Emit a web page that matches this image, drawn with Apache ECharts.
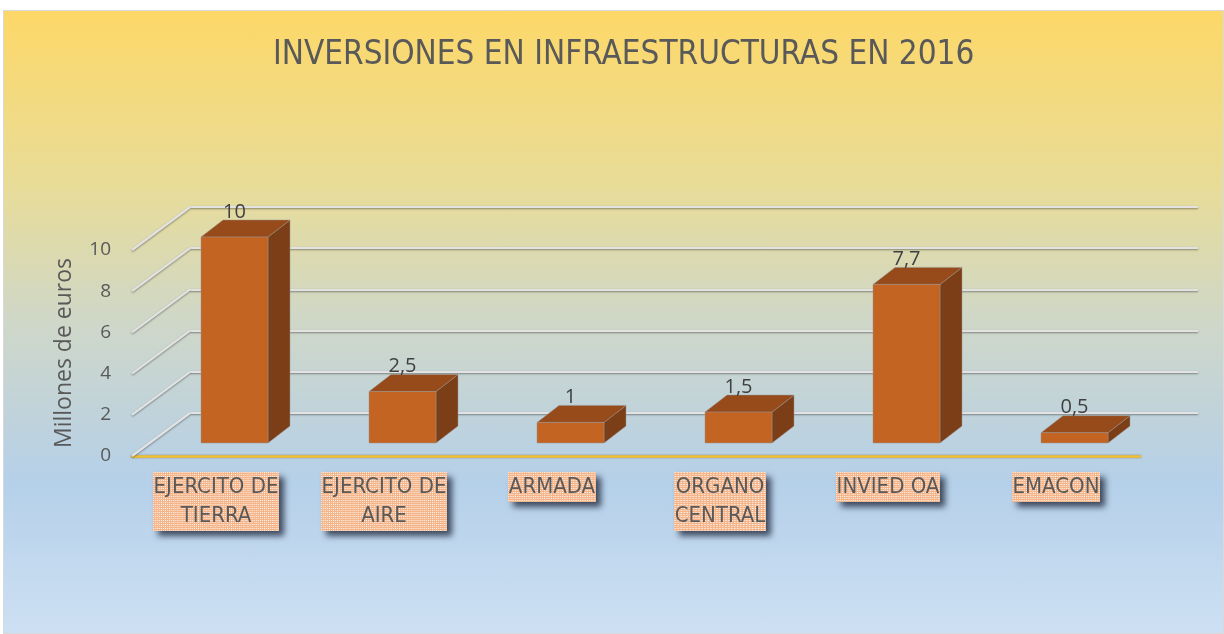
<!DOCTYPE html>
<html>
<head>
<meta charset="utf-8">
<script src="https://cdn.jsdelivr.net/npm/echarts@6/dist/echarts.min.js"></script>
<style>
  html, body { margin: 0; padding: 0; background: #ffffff; }
  #bg { position: absolute; left: 3px; top: 10px; width: 1219px; height: 622px;
        border: 1px solid #d9d9d9;
        background: linear-gradient(to bottom, #fdd868 0%, #e8dc98 28%, #cfd7c8 50%, #b5d0e9 76%, #cde0f3 100%); }
  #chart { position: absolute; left: 0; top: 0; width: 1224px; height: 634px; }
</style>
</head>
<body>
<div id="bg"></div>
<div id="chart"></div>
<script>
// ---- data ----
const title = 'INVERSIONES EN INFRAESTRUCTURAS EN 2016';
const yAxisName = 'Millones de euros';
const categories = ['EJERCITO DE\nTIERRA', 'EJERCITO DE\nAIRE', 'ARMADA', 'ORGANO\nCENTRAL', 'INVIED OA', 'EMACON'];
const values = [10, 2.5, 1, 1.5, 7.7, 0.5];
const yTicks = [0, 2, 4, 6, 8, 10];

// ---- styling helpers ----
function makePattern(w, h) {
  const c = document.createElement('canvas');
  c.width = w; c.height = h;
  const g = c.getContext('2d');
  g.fillStyle = '#f5b58a';
  g.fillRect(0, 0, w, h);
  g.fillStyle = 'rgba(255,255,255,0.85)';
  for (let y = 0; y < h; y += 4) {
    for (let x = 0; x < w; x += 4) {
      g.fillRect(x, y, 1, 1);
      g.fillRect(x + 2, y, 1, 1);
      g.fillRect(x, y + 2, 1, 1);
    }
  }
  g.fillStyle = 'rgba(255,255,255,0.5)';
  for (let y = 0; y < h; y += 4) {
    for (let x = 0; x < w; x += 4) {
      g.fillRect(x + 2, y + 2, 1, 1);
    }
  }
  return c;
}
const patTwo = makePattern(123, 59);
const patOne = makePattern(98, 30);

const FONT = "'Liberation Sans Narrow', 'DejaVu Sans Condensed', sans-serif";
const TXT = '#595959';

const xData = categories.map(c => ({
  value: c,
  textStyle: { backgroundColor: { image: c.indexOf('\n') >= 0 ? patTwo : patOne } }
}));

const DX = 58, DY = -43;       // depth offset front -> back wall
const BX = 18.5, BY = -13;     // bar front face offset from front plane
const BW = 67;                 // bar width
const BDX = 22, BDY = -17;     // bar depth

const gridLine = { stroke: '#e2e2e2', lineWidth: 2.2, shadowColor: 'rgba(0,0,0,0.4)', shadowBlur: 2, shadowOffsetY: 1 };

const chart = echarts.init(document.getElementById('chart'), null, { renderer: 'canvas' });
chart.setOption({
  backgroundColor: 'transparent',
  animation: false,
  title: {
    text: title, left: 268, top: 34,
    textStyle: { fontFamily: FONT, fontSize: 33, fontWeight: 'normal', color: TXT }
  },
  grid: [
    { left: 132, right: 84, top: 250, bottom: 178 },
    { left: 190, right: 26, top: 207, bottom: 221 }
  ],
  xAxis: [
    {
      gridIndex: 0, type: 'category', data: xData, boundaryGap: true,
      axisTick: { show: false },
      axisLine: { show: true, lineStyle: { color: '#f2c12e', width: 2.5, shadowColor: 'rgba(0,0,0,0.35)', shadowBlur: 2 } },
      axisLabel: {
        interval: 0, margin: 16, color: TXT, fontFamily: FONT, fontSize: 22,
        padding: [1, 1, 0, 1],
        formatter: function (v) { return v.split('\n').map(s => '{t|' + s + '}').join('\n'); },
        rich: { t: { lineHeight: 29, fontSize: 22, fontFamily: FONT, color: TXT } },
        shadowColor: 'rgba(30,40,60,0.8)', shadowBlur: 6, shadowOffsetX: 5, shadowOffsetY: 5
      }
    },
    { gridIndex: 1, type: 'value', show: false }
  ],
  yAxis: [
    {
      gridIndex: 0, type: 'value', min: 0, max: 10, interval: 2,
      name: yAxisName, nameLocation: 'middle', nameGap: 56, nameRotate: 90,
      nameTextStyle: { fontFamily: "'Open Sans', sans-serif", fontSize: 23, color: TXT },
      axisLine: { show: false }, axisTick: { show: false }, splitLine: { show: false },
      axisLabel: { margin: 21, color: TXT, fontFamily: "'Open Sans', sans-serif", fontSize: 19 }
    },
    {
      gridIndex: 1, type: 'value', min: 0, max: 10, interval: 2,
      axisLine: { show: false }, axisTick: { show: false }, axisLabel: { show: false },
      splitLine: { show: true, lineStyle: { color: gridLine.stroke, width: gridLine.lineWidth, shadowColor: gridLine.shadowColor, shadowBlur: 2, shadowOffsetY: 1 } }
    }
  ],
  series: [
    {
      type: 'custom', xAxisIndex: 0, yAxisIndex: 0, z: 1,
      data: yTicks.map(v => [0, v]),
      renderItem: function (params, api) {
        const p = api.coord([0, api.value(1)]);
        const x0 = params.coordSys.x;
        return {
          type: 'line', silent: true,
          shape: { x1: x0, y1: p[1], x2: x0 + DX, y2: p[1] + DY },
          style: gridLine
        };
      }
    },
    {
      type: 'custom', xAxisIndex: 0, yAxisIndex: 0, z: 3,
      data: values.map((v, i) => [i, v]),
      renderItem: function (params, api) {
        const i = api.value(0), v = api.value(1);
        const base = api.coord([i, 0]);
        const top = api.coord([i, v]);
        const x0 = base[0] - BW / 2 + BX, x1 = x0 + BW;
        const yb = base[1] + BY, yt = top[1] + BY;
        const edge = 'rgba(150,150,150,0.6)';
        const lbl = String(v).replace('.', ',');
        return {
          type: 'group',
          children: [
            { type: 'polygon', shape: { points: [[x1, yt], [x1 + BDX, yt + BDY], [x1 + BDX, yb + BDY], [x1, yb]] },
              style: { fill: '#7b3e16', stroke: edge, lineWidth: 0.8 } },
            { type: 'polygon', shape: { points: [[x0, yt], [x1, yt], [x1 + BDX, yt + BDY], [x0 + BDX, yt + BDY]] },
              style: { fill: '#974a1a', stroke: edge, lineWidth: 0.8 } },
            { type: 'rect', shape: { x: x0, y: yt, width: BW, height: yb - yt },
              style: { fill: '#c46422', stroke: edge, lineWidth: 0.8 } },
            { type: 'text', style: { x: x0 + BW / 2, y: yt + BDY + 2, text: lbl, align: 'center', verticalAlign: 'bottom',
              fill: '#404040', fontSize: 20, fontFamily: "'Open Sans', sans-serif" } }
          ]
        };
      }
    }
  ]
});
</script>
</body>
</html>
